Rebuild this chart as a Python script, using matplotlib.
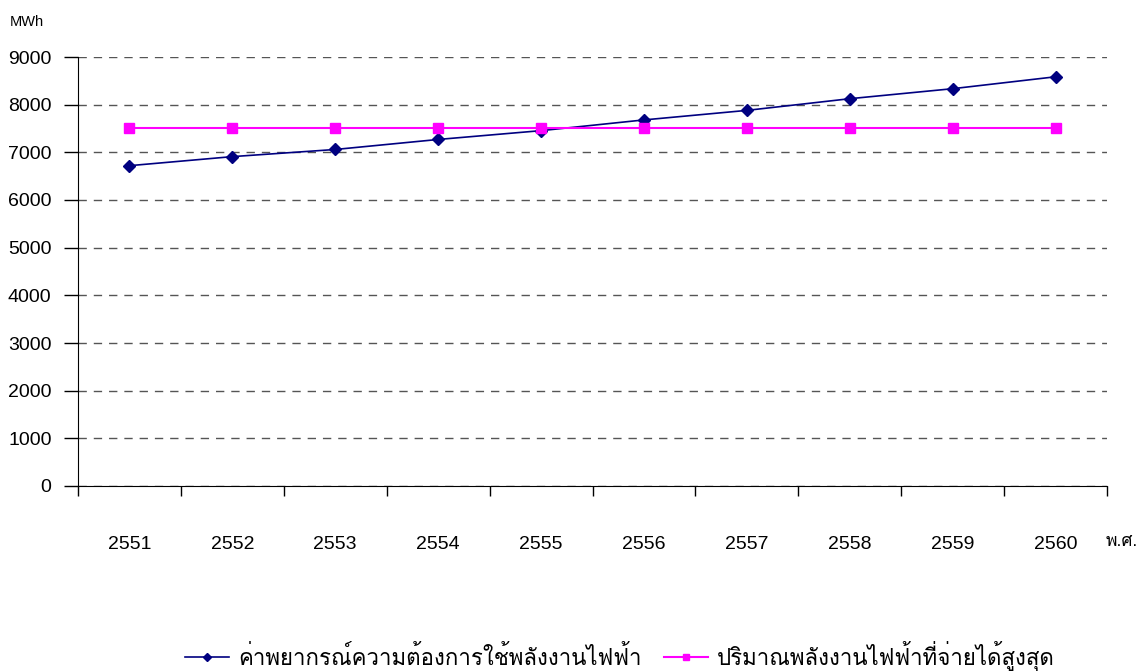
import matplotlib
matplotlib.use("Agg")
import matplotlib.pyplot as plt
from matplotlib import font_manager
from matplotlib.ft2font import FT2Font

years = ["2551", "2552", "2553", "2554", "2555", "2556", "2557", "2558", "2559", "2560"]
forecast = [6720, 6910, 7060, 7270, 7455, 7680, 7880, 8125, 8335, 8585]
max_supply = [7520, 7520, 7520, 7520, 7520, 7520, 7520, 7520, 7520, 7520]
yticks = [0, 1000, 2000, 3000, 4000, 5000, 6000, 7000, 8000, 9000]
label_forecast = "ค่าพยากรณ์ความต้องการใช้พลังงานไฟฟ้า"
label_supply = "ปริมาณพลังงานไฟฟ้าที่จ่ายได้สูงสุด"

# find a font with Thai glyphs
thai_family = None
for f in font_manager.fontManager.ttflist:
    try:
        cm = FT2Font(f.fname).get_charmap()
        if 0x0E04 in cm and 0x0E1E in cm:
            thai_family = f.name
            break
    except Exception:
        pass
fams = ["Liberation Sans", "DejaVu Sans"]
if thai_family:
    fams = ["Liberation Sans", thai_family, "DejaVu Sans"]
plt.rcParams["font.family"] = fams

fig = plt.figure(figsize=(11.41, 6.71), dpi=100)
ax = fig.add_axes([78/1141, 1-486/671, (1107-78)/1141, (486-57)/671])

x = list(range(len(years)))
ax.plot(x, forecast, color="#000080", lw=1.2, marker="D", ms=6, label=label_forecast)
ax.plot(x, max_supply, color="#FF00FF", lw=1.5, marker="s", ms=7, label=label_supply)

ax.set_xlim(-0.5, len(years) - 0.5)
ax.set_ylim(0, 9000)
ax.set_yticks(yticks)
ax.set_yticklabels([str(v) for v in yticks], fontsize=14)
ax.yaxis.grid(True, linestyle=(0, (6, 5)), color="#555555", lw=1)
ax.set_axisbelow(True)

ax.set_xticks([i - 0.5 for i in range(len(years) + 1)])
ax.set_xticklabels([])
ax.set_xticks(x, minor=True)
ax.set_xticklabels(years, minor=True, fontsize=14)
ax.tick_params(axis="x", which="minor", length=0, pad=36)
ax.tick_params(axis="x", which="major", direction="out", length=7, width=1)
ax.tick_params(axis="y", length=10, direction="out", width=1, pad=9)

for s in ["top", "right"]:
    ax.spines[s].set_visible(False)
ax.spines["left"].set_color("black")
ax.spines["bottom"].set_color("black")

fig.text(10/1141, 1-22/671, "MWh", fontsize=10.5, va="center", ha="left")
fig.text(1138/1141, 1-542/671, "พ.ศ.", fontsize=12.5, va="center", ha="right")

leg = fig.legend(loc="center", bbox_to_anchor=(620/1141, 1-656/671), ncol=2,
                 frameon=False, fontsize=16, handlelength=2.0, handletextpad=0.4,
                 columnspacing=1.0, markerscale=0.7)

fig.savefig("out.png", dpi=100)
